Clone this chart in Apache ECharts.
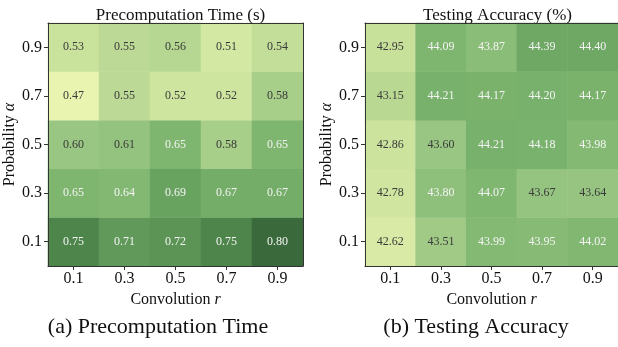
<!DOCTYPE html>
<html><head><meta charset="utf-8">
<script src="https://cdn.jsdelivr.net/npm/echarts@6/dist/echarts.min.js"></script>
<style>html,body{margin:0;padding:0;background:#fff}#c{width:618px;height:347px}</style>
</head><body><div id="c"></div>
<script>
const xCats = ['0.1','0.3','0.5','0.7','0.9'];
const yCats = ['0.1','0.3','0.5','0.7','0.9'];
// rows: alpha 0.1 (bottom) .. 0.9 (top); columns: r 0.1 .. 0.9
const timeValues = [
  [0.75,0.71,0.72,0.75,0.80],
  [0.65,0.64,0.69,0.67,0.67],
  [0.60,0.61,0.65,0.58,0.65],
  [0.47,0.55,0.52,0.52,0.58],
  [0.53,0.55,0.56,0.51,0.54]
];
const accValues = [
  [42.62,43.51,43.99,43.95,44.02],
  [42.78,43.80,44.07,43.67,43.64],
  [42.86,43.60,44.21,44.18,43.98],
  [43.15,44.21,44.17,44.20,44.17],
  [42.95,44.09,43.87,44.39,44.40]
];
const titles = ['Precomputation Time (s)','Testing Accuracy (%)'];
const captions = ['(a) Precomputation Time','(b) Testing Accuracy'];

const FONT = 'Liberation Serif';
const palette = ['#e8f4b0','#c6e09a','#98c682','#74ae68','#548d50','#3a6a3c'];

function toData(vals, thr){
  const out=[];
  vals.forEach((row,yi)=>row.forEach((v,xi)=>{
    out.push({value:[xi,yi,v],label:{color: v>=thr ? '#f4f4f4' : '#3a3a3a'}});
  }));
  return out;
}
const grids=[{left:48,top:23,width:255,height:243},{left:365,top:23,width:255,height:243}];
const chart = echarts.init(document.getElementById('c'));
const xAxes=[], yAxes=[], series=[], vms=[], titleArr=[];
const ranges=[[0.47,0.80],[42.3,45.6]];
const thr=[0.62,43.7];
const vals=[timeValues,accValues];
for(let i=0;i<2;i++){
  xAxes.push({type:'category',data:xCats,gridIndex:i,position:'bottom',
    axisLine:{show:true,lineStyle:{color:'#333',width:1}},
    axisTick:{show:true,alignWithLabel:true,length:4,lineStyle:{color:'#333'}},
    axisLabel:{fontFamily:FONT,fontSize:16,color:'#111',margin:5},
    splitArea:{show:false},
    name:'Convolution {i|r}',nameLocation:'middle',nameGap:18,
    nameTextStyle:{fontFamily:FONT,fontSize:16,color:'#111',rich:{i:{fontFamily:FONT,fontStyle:'italic',fontSize:16,color:'#111'}}},
    z:10});
  xAxes.push({type:'category',data:xCats,gridIndex:i,position:'top',
    axisLine:{show:true,lineStyle:{color:'#333',width:1}},axisTick:{show:false},axisLabel:{show:false},z:10});
  yAxes.push({type:'category',data:yCats,gridIndex:i,position:'left',
    axisLine:{show:true,lineStyle:{color:'#333',width:1}},
    axisTick:{show:true,alignWithLabel:true,length:4,lineStyle:{color:'#333'}},
    axisLabel:{fontFamily:FONT,fontSize:16,color:'#111',margin:6},
    name:'Probability {i|α}',nameLocation:'middle',nameGap:26,nameRotate:90,
    nameTextStyle:{fontFamily:FONT,fontSize:16,color:'#111',rich:{i:{fontFamily:FONT,fontStyle:'italic',fontSize:16,color:'#111'}}},
    z:10});
  yAxes.push({type:'category',data:yCats,gridIndex:i,position:'right',
    axisLine:{show:true,lineStyle:{color:'#333',width:1}},axisTick:{show:false},axisLabel:{show:false},z:10});
  vms.push({type:'continuous',min:ranges[i][0],max:ranges[i][1],seriesIndex:i,show:false,inRange:{color:palette}});
  series.push({type:'heatmap',xAxisIndex:2*i,yAxisIndex:2*i,data:toData(vals[i],thr[i]),
    label:{show:true,fontFamily:FONT,fontSize:12,formatter:p=>p.value[2].toFixed(2)},
    itemStyle:{borderWidth:0},emphasis:{disabled:true}});
  titleArr.push({text:titles[i],left:grids[i].left+127.5,textAlign:'center',top:2,
    textStyle:{fontFamily:FONT,fontSize:17,fontWeight:'normal',color:'#111'}});
}
titleArr.push({text:captions[0],left:153,textAlign:'center',top:311,textStyle:{fontFamily:FONT,fontSize:22,fontWeight:'normal',color:'#111'}});
titleArr.push({text:captions[1],left:471,textAlign:'center',top:311,textStyle:{fontFamily:FONT,fontSize:22,fontWeight:'normal',color:'#111'}});
chart.setOption({animation:false,title:titleArr,grid:grids,xAxis:xAxes,yAxis:yAxes,visualMap:vms,series:series});
</script></body></html>
